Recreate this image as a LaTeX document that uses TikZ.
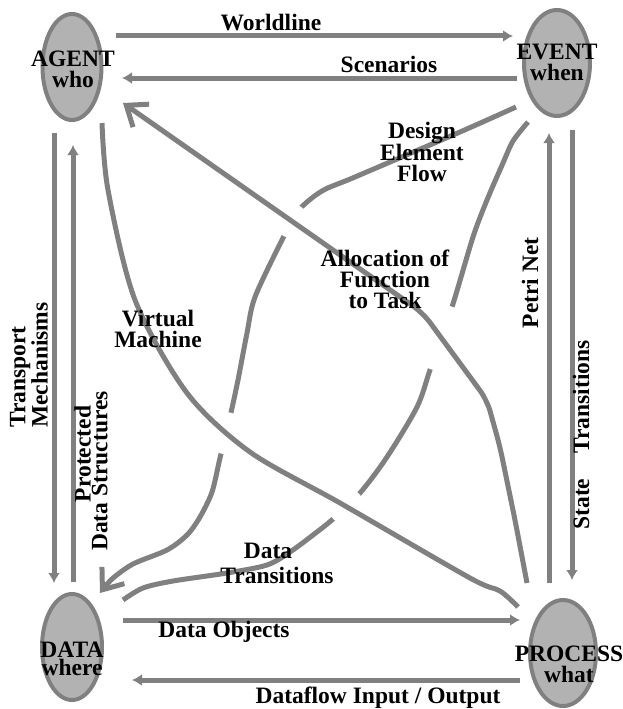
\documentclass[tikz,border=0pt]{standalone}
\usepackage{fontspec}
\setmainfont{Liberation Serif}
\usepackage{tikz}
\usetikzlibrary{arrows.meta, shapes.geometric, intersections}
\pgfdeclarelayer{bg}
\pgfsetlayers{bg,main}

\definecolor{linegray}{gray}{0.5}
\definecolor{blobgray}{gray}{0.7}

\begin{document}
\begin{tikzpicture}[
    x=1pt, y=-1pt,
    blob/.style={ellipse, draw=linegray, fill=blobgray, line width=4pt,
                 minimum height=106pt, inner sep=0pt, outer sep=0pt},
    lbl/.style={font=\fontsize{23.5}{21}\selectfont\bfseries,
                align=center, inner sep=0pt},
    vlbl/.style={lbl, rotate=90, font=\fontsize{23.5}{15}\selectfont\bfseries},
    wire/.style={draw=linegray, line width=5pt},
    arw/.style={wire, -{Latex[length=10pt, width=12pt]}},
    barb/.style={wire, -{Straight Barb[length=18pt, width=28pt]}},
    gap/.style={fill=white},
]
\useasboundingbox (0,0) rectangle (623,709);

% --- Nodes ---
\node[blob, minimum width=59pt] (agent) at (72,67) {};
\node[blob, minimum width=66pt] (event) at (557,63) {};
\node[blob, minimum width=60pt] (data) at (72,647) {};
\node[blob, minimum width=66pt] (process) at (563,653) {};

% --- Curves passing underneath ---
\begin{pgfonlayer}{bg}
\draw[barb, name path global=design] plot[smooth] coordinates {
    ([shift={(-8,44)}]event.west) (460,132) (355,177) (322,191) (298,211)
    (282,240) (255,297) (247,333) (238,380) (230,417) (220,458) (212,492)
    (200,517) (187,535) (167,550) (133,564) (112,579)
    ([shift={(28,-1)}]data.north)};
\draw[wire, name path global=dtrans] plot[smooth] coordinates {
    ([shift={(21,-47)}]data.east) (143,588) (173,581) (227,573) (267,565)
    (290,552) (313,535) (333,519) (360,493) (387,457) (417,407) (430,370)
    (452,307) (473,237) (487,200) (503,163) (513,141)
    ([shift={(-29,6)}]event.south)};
\end{pgfonlayer}

% --- Curves on top ---
\draw[wire, name path global=vm] plot[smooth] coordinates {
    ([shift={(30,3)}]agent.south) (108,190) (135,300) (187,393) (250,452)
    (340,503) (470,578) (500,591) ([shift={(-12,-46)}]process.west)};
\draw[barb, rounded corners=12pt, name path global=alloc]
    ([shift={(-36,-17)}]process.north) -- (515,520) -- (500,447)
    -- (487,400) -- (423,313) -- ([shift={(21.5,36)}]agent.east);

% --- Gaps at crossings ---
\begin{pgfonlayer}{bg}
\path[name intersections={of=design and alloc, by=cx1}];
\path[name intersections={of=design and vm, by=cx2}];
\path[name intersections={of=dtrans and alloc, by=cx3}];
\path[name intersections={of=dtrans and vm, by=cx4}];
\fill[gap] (cx1) circle (17pt);
\fill[gap] (cx2) circle (21pt);
\fill[gap] (cx3) circle (33pt);
\fill[gap] (cx4) circle (18pt);
\end{pgfonlayer}

% --- Straight arrows ---
\draw[arw] ([shift={(14.5,-31)}]agent.east) -- ([shift={(-11,-27)}]event.west);
\draw[arw] ([shift={(-7,15)}]event.west) -- ([shift={(20.5,11)}]agent.east);
\draw[arw] ([shift={(21,-27)}]data.east) -- ([shift={(-10,-33)}]process.west);
\draw[arw] ([shift={(-10,27)}]process.west) -- ([shift={(30,33)}]data.east);
\draw[arw] ([shift={(-18,13)}]agent.south) -- ([shift={(-18,-11)}]data.north);
\draw[arw] ([shift={(1,-12)}]data.north) -- ([shift={(1,25)}]agent.south);
\draw[arw] ([shift={(-14,-17)}]process.north) -- ([shift={(-8,17)}]event.south);
\draw[arw] ([shift={(15,14)}]event.south) -- ([shift={(9,-20)}]process.north);

% --- Labels ---
\node[lbl] (agenttxt) at (73,69) {AGENT\\who};
\node[lbl] (eventtxt) at (557,62) {EVENT\\when};
\node[lbl, font=\fontsize{23.5}{18}\selectfont\bfseries] (datatxt) at (72,659) {DATA\\where};
\node[lbl] (proctxt) at (569,664) {PROCESS\\what};

\node[lbl, anchor=base] (worldtxt) at (271,31) {Worldline};
\node[lbl, anchor=base] (scentxt) at (389,73) {Scenarios};
\node[lbl, anchor=base] (objtxt) at (224,637) {Data Objects};
\node[lbl, anchor=base] (flowtxt) at (378,703) {Dataflow Input / Output};

\node[vlbl, align=left] (transtxt) at (29,365) {Transport\\Mechanisms};
\node[vlbl] (prottxt) at (91,471) {\hspace*{34pt}Protected\\Data Structures};
\node[lbl, rotate=90] (petritxt) at (530,283) {Petri Net};
\node[lbl, rotate=90] (statetxt) at (581,435) {State\hspace{25pt}Transitions};

\node[lbl] (designtxt) at (422,152) {Design\\Element\\Flow};
\node[lbl] (alloctxt) at (385,279) {Allocation of\\Function\\to Task};
\node[lbl] (vmtxt) at (158,329) {Virtual\\Machine};
\node[lbl] (dttxt) at (277,563) {Data\hspace*{18pt}\\[4pt]Transitions};
\end{tikzpicture}
\end{document}
